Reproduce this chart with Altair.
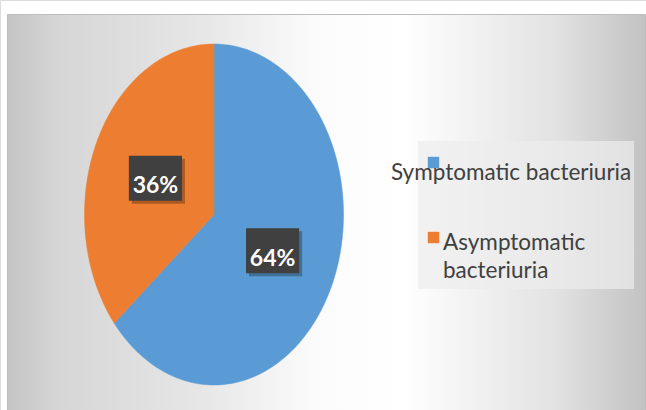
import altair as alt
import pandas as pd

# ---- data ----
categories = ["Symptomatic bacteriuria", "Asymptomatic bacteriuria"]
values = [64, 36]
colors = ["#5B9BD5", "#ED7D31"]

N = 180  # arc resolution (number of segments per slice)

total = sum(values)
poly_rows = []
label_rows = []
cum = 0
for cat, v in zip(categories, values):
    start = cum / total
    cum += v
    end = cum / total
    label_rows.append({"category": cat, "value": v, "start": start, "end": end})
    for s in range(-1, N + 2):
        poly_rows.append({"category": cat, "value": v, "start": start, "end": end, "step": s})
poly_df = pd.DataFrame(poly_rows)
label_df = pd.DataFrame(label_rows)
one_df = pd.DataFrame({"k": [0]})

W, H = 646, 410
xs = alt.Scale(domain=[-1, 1], range=[84.5, 343.5])
ys = alt.Scale(domain=[-1, 1], range=[385, 44])
cscale = alt.Scale(domain=categories, range=colors)

grad = {
    "gradient": "linear",
    "x1": 0, "x2": 1, "y1": 0, "y2": 0,
    "stops": [
        {"offset": 0.0, "color": "#c4c4c4"},
        {"offset": 0.08, "color": "#d6d6d6"},
        {"offset": 0.30, "color": "#e6e6e6"},
        {"offset": 0.48, "color": "#fbfbfb"},
        {"offset": 0.62, "color": "#ffffff"},
        {"offset": 0.86, "color": "#e2e2e2"},
        {"offset": 1.0, "color": "#c2c2c2"},
    ],
}

panel = alt.Chart(one_df).mark_rect(fill=grad, stroke="#bdbdbd", strokeWidth=1).encode(
    x=alt.value(7.5), x2=alt.value(645.5), y=alt.value(14.5), y2=alt.value(412)
)

pie = (
    alt.Chart(poly_df)
    .transform_calculate(inner=f"datum.step >= 0 && datum.step <= {N}")
    .transform_calculate(
        ang=f"2*PI*(datum.start + (datum.end - datum.start) * clamp(datum.step, 0, {N}) / {N})"
    )
    .transform_calculate(px="datum.inner ? sin(datum.ang) : 0")
    .transform_calculate(py="datum.inner ? cos(datum.ang) : 0")
    .mark_line(strokeWidth=0.5, interpolate="linear")
    .encode(
        x=alt.X("px:Q", scale=xs, axis=None),
        y=alt.Y("py:Q", scale=ys, axis=None),
        detail="category:N",
        order=alt.Order("step:Q"),
        fill=alt.Fill("category:N", scale=cscale, legend=None),
        stroke=alt.Stroke("category:N", scale=cscale, legend=None),
    )
)

lab = (
    alt.Chart(label_df)
    .transform_joinaggregate(tot="sum(value)")
    .transform_calculate(mid="PI*(datum.start + datum.end)")
    .transform_calculate(lx="0.5*sin(datum.mid)")
    .transform_calculate(ly="0.5*cos(datum.mid)")
    .transform_calculate(pct="round(datum.value / datum.tot * 100) + '%'")
)
box_shape = "M-1.18,-1H1.18V1H-1.18Z"
enc = dict(x=alt.X("lx:Q", scale=xs, axis=None), y=alt.Y("ly:Q", scale=ys, axis=None))
shadow = lab.mark_point(shape=box_shape, size=2025, filled=True, fill="#000000",
                        opacity=0.28, strokeWidth=0, xOffset=3, yOffset=3).encode(**enc)
box = lab.mark_point(shape=box_shape, size=2025, filled=True, fill="#404040",
                     opacity=1, strokeWidth=0).encode(**enc)
txt = lab.mark_text(font="Lato", fontWeight="bold", fontSize=23, color="#ffffff",
                    align="center", baseline="middle", dy=8).encode(text="pct:N", **enc)

# ---- legend ----
leg_box = alt.Chart(one_df).mark_rect(fill="#ececec", opacity=0.7).encode(
    x=alt.value(418), x2=alt.value(634), y=alt.value(141), y2=alt.value(289)
)
sym_y = [162.5, 237.5]
text_x = [391, 443]
text_y = [180, 250]
legend_layers = []
for i, cat in enumerate(categories):
    base = alt.Chart(label_df).transform_filter(alt.datum.category == cat)
    legend_layers.append(
        base.mark_square(size=130, opacity=1, filled=True).encode(
            x=alt.value(433.5), y=alt.value(sym_y[i]),
            color=alt.Color("category:N", scale=cscale, legend=None),
        )
    )
    t = base
    if i == 1:
        t = t.transform_calculate(lbl="split(datum.category, ' ')")
    else:
        t = t.transform_calculate(lbl="datum.category")
    legend_layers.append(
        t.mark_text(font="Lato", fontSize=22.5, color="#404040", align="left",
                    baseline="alphabetic", lineHeight=28).encode(
            x=alt.value(text_x[i]), y=alt.value(text_y[i]), text="lbl:N"
        )
    )

chart = (
    alt.layer(panel, pie, shadow, box, txt, leg_box, *legend_layers)
    .properties(width=W, height=H, padding=0, autosize=alt.AutoSizeParams(type="none"))
    .configure_view(stroke=None)
    .configure(background="#ffffff")
)

chart.save("out.html", embed_options={"renderer": "svg", "actions": False})
